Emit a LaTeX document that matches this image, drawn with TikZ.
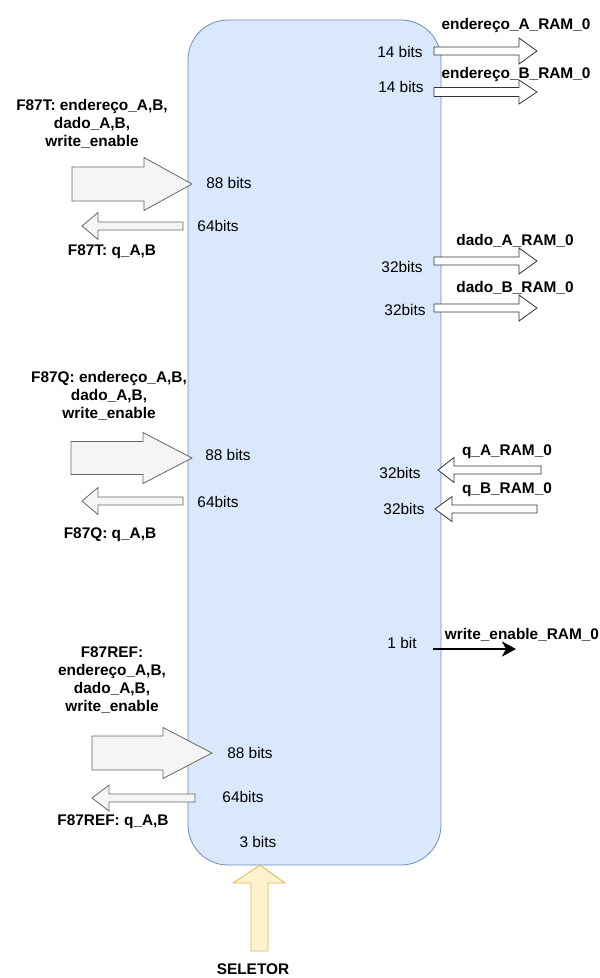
\documentclass[tikz,border=0pt]{standalone}
\usepackage{fontspec}
\setmainfont{Liberation Sans}
\usetikzlibrary{arrows.meta}

\definecolor{boxfill}{HTML}{DAE8FC}
\definecolor{boxline}{HTML}{6C8EBF}
\definecolor{busfill}{HTML}{F5F5F5}
\definecolor{busline}{HTML}{666666}
\definecolor{selfill}{HTML}{FFF2CC}
\definecolor{selline}{HTML}{D6B656}

% block arrow: style, tail x, head base x, tip x, y, half body, half head
\newcommand{\busarrow}[7]{%
  \draw[#1] (#2,#5-#6) -- (#3,#5-#6) -- (#3,#5-#7) -- (#4,#5)
    -- (#3,#5+#7) -- (#3,#5+#6) -- (#2,#5+#6) -- cycle;}

\tikzset{
  bus/.style={fill=busfill, draw=busline, line width=0.8pt},
  wire/.style={fill=white, draw=black!80, line width=0.8pt},
  bits/.style={inner sep=0pt, font=\fontsize{15.4}{18}\selectfont},
  sig/.style={inner sep=0pt, align=center, font=\fontsize{15.4}{18}\selectfont\bfseries}
}

\begin{document}
\begin{tikzpicture}[x=1pt, y=-1pt]
        \useasboundingbox (0,0) rectangle (600,978);

        % main block
        \draw[fill=boxfill, draw=boxline, line width=0.8pt, rounded corners=40pt] (188,20) rectangle (441,865);

        % F87T
        \node[sig] (inT) at (92,124) {F87T: endereço\_A,B,\\dado\_A,B,\\write\_enable};
        \busarrow{bus}{72}{144}{192}{184}{17}{26.5}
        \node[bits] (bitsinT) at (229,183) {88 bits};
        \busarrow{bus}{183}{98}{82}{226}{4}{13.5}
        \node[bits] (bitsoutT) at (218,226) {64bits};
        \node[sig] (outT) at (112,252) {F87T: q\_A,B};

        % F87Q
        \node[sig] (inQ) at (109,396) {F87Q: endereço\_A,B,\\dado\_A,B,\\write\_enable};
        \busarrow{bus}{71}{143}{192}{458}{16.5}{25.5}
        \node[bits] (bitsinQ) at (228,455) {88 bits};
        \busarrow{bus}{183}{98}{82}{501}{4}{13.5}
        \node[bits] (bitsoutQ) at (218,502) {64bits};
        \node[sig] (outQ) at (110,535) {F87Q: q\_A,B};

        % F87REF
        \node[sig] (inREF) at (112,680) {F87REF:\\endereço\_A,B,\\dado\_A,B,\\write\_enable};
        \busarrow{bus}{92}{163}{212}{753}{17}{25.5}
        \node[bits] (bitsinREF) at (250,753) {88 bits};
        \busarrow{bus}{195}{109}{92}{798}{4}{13}
        \node[bits] (bitsoutREF) at (243,797) {64bits};
        \node[sig] (outREF) at (113,822) {F87REF: q\_A,B};

        % RAM 0 addresses
        \node[sig] (endA) at (516,26) {endereço\_A\_RAM\_0};
        \busarrow{wire}{434}{519}{537}{51}{4}{13}
        \node[bits] (bitsendA) at (400,52) {14 bits};
        \node[sig] (endB) at (516,75) {endereço\_B\_RAM\_0};
        \busarrow{wire}{434}{519}{537}{92}{4.5}{12}
        \node[bits] (bitsendB) at (401,87) {14 bits};

        % RAM 0 data
        \node[sig] (dadoA) at (515,241) {dado\_A\_RAM\_0};
        \busarrow{wire}{434}{519}{537}{261}{4}{13}
        \node[bits] (bitsdadoA) at (402,267) {32bits};
        \node[sig] (dadoB) at (515,288) {dado\_B\_RAM\_0};
        \busarrow{wire}{434}{519}{537}{308}{4}{13}
        \node[bits] (bitsdadoB) at (405,310) {32bits};

        % RAM 0 outputs
        \node[sig] (qA) at (507,452) {q\_A\_RAM\_0};
        \busarrow{wire}{541}{454}{438}{470}{4}{12.5}
        \node[bits] (bitsqA) at (400,473) {32bits};
        \node[sig] (qB) at (507,490) {q\_B\_RAM\_0};
        \busarrow{wire}{537}{452}{435}{509}{4}{12.5}
        \node[bits] (bitsqB) at (404,509) {32bits};

        % write enable
        \node[sig] (we) at (522,635) {write\_enable\_RAM\_0};
        \node[bits] (bitswe) at (402,643) {1 bit};
        \coordinate (weS) at (433,649);
        \coordinate (weE) at (516,649);
        \draw[-{Stealth[length=14pt, width=15pt, inset=4pt]}, line width=2.6pt] (weS) -- (weE);

        % selector
        \draw[fill=selfill, draw=selline, line width=0.8pt] (251,951) -- (251,883) -- (233,883) -- (260,865)
          -- (285,883) -- (268,883) -- (268,951) -- cycle;
        \node[bits] (bitssel) at (258,842) {3 bits};
        \node[sig] (sel) at (253,969) {SELETOR};
    \end{tikzpicture}
\end{document}
